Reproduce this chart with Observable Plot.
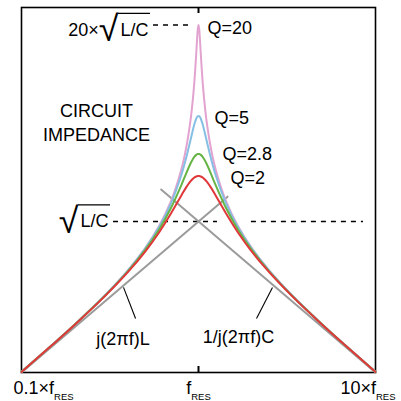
<!DOCTYPE html>
<html><head><meta charset="utf-8">
<script src="https://cdn.jsdelivr.net/npm/d3@7"></script>
<script src="https://cdn.jsdelivr.net/npm/@observablehq/plot@0.6"></script>
<style>body{margin:0;background:#fff;} svg{display:block;}</style>
</head><body>
<script>
// ---- data (impedance in units of sqrt(L/C), frequency in units of f_RES) ----
const freqRatio = [0.1, 0.15, 0.2, 0.3, 0.4, 0.5, 0.6, 0.7, 0.8, 0.85, 0.9, 0.93, 0.95, 0.97, 0.98, 0.99, 1,
  1.0101, 1.0204, 1.0309, 1.0526, 1.0753, 1.1111, 1.1765, 1.25, 1.4286, 1.6667, 2, 2.5, 3.3333, 5, 6.6667, 10];
const zQ20 = [0.1010, 0.1535, 0.2083, 0.3296, 0.4761, 0.6663, 0.9365, 1.369, 2.209, 3.028, 4.609, 6.509, 8.759, 12.69, 15.56, 18.56, 20,
  18.56, 15.56, 12.69, 8.759, 6.509, 4.609, 3.028, 2.209, 1.369, 0.9365, 0.6663, 0.4761, 0.3296, 0.2083, 0.1535, 0.1010];
const zQ5 = [0.1010, 0.1534, 0.2082, 0.3290, 0.4741, 0.6608, 0.9214, 1.324, 2.031, 2.612, 3.439, 4.046, 4.448, 4.783, 4.901, 4.975, 5,
  4.975, 4.901, 4.783, 4.448, 4.046, 3.439, 2.612, 2.031, 1.324, 0.9214, 0.6608, 0.4741, 0.3290, 0.2082, 0.1534, 0.1010];
const zQ28 = [0.1010, 0.1532, 0.2078, 0.3274, 0.4695, 0.6485, 0.8890, 1.232, 1.741, 2.067, 2.410, 2.594, 2.691, 2.760, 2.782, 2.796, 2.8,
  2.796, 2.782, 2.760, 2.691, 2.594, 2.410, 2.067, 1.741, 1.232, 0.8890, 0.6485, 0.4695, 0.3274, 0.2078, 0.1532, 0.1010];
const zQ2 = [0.1009, 0.1530, 0.2072, 0.3253, 0.4632, 0.6325, 0.8489, 1.132, 1.487, 1.675, 1.843, 1.921, 1.959, 1.985, 1.994, 1.998, 2,
  1.998, 1.994, 1.985, 1.959, 1.921, 1.843, 1.675, 1.487, 1.132, 0.8489, 0.6325, 0.4632, 0.3253, 0.2072, 0.1530, 0.1009];
const qValues = [20, 5, 2.8, 2];
const qLabels = ["Q=20", "Q=5", "Q=2.8", "Q=2"];
const inductorFreq = [0.1, 1.46];
const inductorZ = [0.1, 1.46];
const capacitorFreq = [0.615, 10];
const capacitorZ = [1.626, 0.1];
const xTickValues = [0.1, 1, 10];
const xTickLabels = ["0.1×f_RES", "f_RES", "10×f_RES"];
const levelValues = [1, 20];
const levelLabels = ["√L/C", "20×√L/C"];
const titleLabel = "CIRCUIT\nIMPEDANCE";
const inductorLabel = "j(2πf)L";
const capacitorLabel = "1/j(2πf)C";

// ---- styles / layout ----
const zSeries = [zQ20, zQ5, zQ28, zQ2];
const seriesColors = ["#e3a3d0", "#85bfe3", "#66b445", "#e0383a"];
const qLabelOffsets = [[9, 3.5], [16, 2.6], [24, 0], [32, 2.5]];
const dash = "5,5";
const font = 18;

const rows = (xs, ys) => xs.map((x, i) => ({x, y: ys[i]}));

const marks = [
  Plot.frame({stroke: "black", strokeWidth: 1.6}),
  Plot.ruleX([xTickValues[1]], {insetBottom: 359, stroke: "black", strokeWidth: 2}),
  Plot.ruleX([xTickValues[1]], {insetTop: 359, stroke: "black", strokeWidth: 2}),
  Plot.ruleY([levelValues[1]], {x1: 0.557, x2: 0.905, stroke: "black", strokeWidth: 1.6, strokeDasharray: dash}),
  Plot.ruleY([levelValues[0]], {x1: 0.331, x2: 1.28, stroke: "black", strokeWidth: 1.6, strokeDasharray: dash}),
  Plot.ruleY([levelValues[0]], {x1: 1.99, x2: 8.55, stroke: "black", strokeWidth: 1.6, strokeDasharray: dash}),
  Plot.line(rows(inductorFreq, inductorZ), {x: "x", y: "y", stroke: "#9b9b9b", strokeWidth: 2}),
  Plot.line(rows(capacitorFreq, capacitorZ), {x: "x", y: "y", stroke: "#9b9b9b", strokeWidth: 2}),
  ...zSeries.map((zs, i) => Plot.line(rows(freqRatio, zs), {x: "x", y: "y", stroke: seriesColors[i], strokeWidth: 2, curve: "catmull-rom"})),
  ...qValues.map((q, i) => Plot.text([q], {x: 1, y: d => d, text: () => qLabels[i], textAnchor: "start",
      dx: qLabelOffsets[i][0], dy: qLabelOffsets[i][1], fontSize: font})),
  Plot.text([levelValues[1]], {x: 0.557, y: d => d, text: () => levelLabels[1], textAnchor: "end", dx: -5, dy: 5, fontSize: font}),
  Plot.text([levelValues[0]], {x: 0.331, y: d => d, text: () => levelLabels[0], textAnchor: "end", dx: -5, dy: 0, fontSize: font}),
  Plot.text([titleLabel], {x: 0.2653, y: 4.59, text: d => d, textAnchor: "middle", lineHeight: 1.33, fontSize: font}),
  Plot.link([0], {x1: 0.377, y1: 0.366, x2: 0.441, y2: 0.228, stroke: "black", strokeWidth: 1.1}),
  Plot.link([0], {x1: 2.618, y1: 0.366, x2: 2.127, y2: 0.228, stroke: "black", strokeWidth: 1.1}),
  Plot.text([inductorLabel], {x: 0.3745, y: 0.167, text: d => d, textAnchor: "middle", fontSize: font}),
  Plot.text([capacitorLabel], {x: 1.683, y: 0.172, text: d => d, textAnchor: "middle", fontSize: font}),
  Plot.text([xTickValues[0]], {x: d => d, y: 0.1, text: () => xTickLabels[0], textAnchor: "start", lineAnchor: "bottom", dx: -8, dy: 21, fontSize: font}),
  Plot.text([xTickValues[1]], {x: d => d, y: 0.1, text: () => xTickLabels[1], textAnchor: "middle", lineAnchor: "bottom", dx: 0, dy: 21, fontSize: font}),
  Plot.text([xTickValues[2]], {x: d => d, y: 0.1, text: () => xTickLabels[2], textAnchor: "end", lineAnchor: "bottom", dx: 20, dy: 21, fontSize: font})
];

const plot = Plot.plot({
  width: 401, height: 401,
  marginLeft: 21, marginRight: 26, marginTop: 7, marginBottom: 29,
  x: {type: "log", domain: [0.1, 10], axis: null},
  y: {type: "log", domain: [0.1, 26.1], axis: null},
  style: {fontFamily: "'Liberation Sans', Arial, Helvetica, sans-serif", fontSize: "18px", background: "white", color: "black"},
  marks
});
document.body.append(plot);

// radical glyph metrics, so the vinculum meets the glyph's top
const radFamily = "'Liberation Sans'";
const ctx = document.createElement("canvas").getContext("2d");
ctx.font = `100px ${radFamily}`;
const m100 = ctx.measureText("√");
const asc100 = m100.actualBoundingBoxAscent || 93, desc100 = m100.actualBoundingBoxDescent || 10;
const radSize = 29 * 100 / (asc100 + desc100);          // radical about 29px tall
const radDesc = desc100 * radSize / 100, radAsc = asc100 * radSize / 100;
const radRight = (m100.actualBoundingBoxRight || 60) * radSize / 100;
const radShift = 6 - radDesc;                            // bottom ~6px below baseline

// subscripts and radicals as tspans
d3.select(plot).selectAll("text").each(function () {
  const t = this.textContent;
  const s = d3.select(this);
  if (t.includes("_")) {
    const [main, sub] = t.split("_");
    s.text(null);
    s.append("tspan").text(main);
    s.append("tspan").attr("dy", 6).attr("font-size", 9.5).text(sub);
  } else if (t.includes("√")) {
    const k = t.indexOf("√");
    const pre = t.slice(0, k), post = t.slice(k + 1);
    s.text(null);
    if (pre) s.append("tspan").text(pre);
    s.append("tspan").attr("font-size", radSize).attr("font-family", radFamily).attr("dy", radShift).text("√");
    s.append("tspan").attr("dx", 2).attr("dy", -radShift).text(post);
    const n = this.getNumberOfChars();
    const radStart = this.getStartPositionOfChar(k);
    const endX = this.getEndPositionOfChar(n - 1).x;
    const topY = radStart.y - radAsc + 0.6;
    d3.select(this.parentNode).append("line")
      .attr("transform", this.getAttribute("transform"))
      .attr("x1", radStart.x + radRight - 0.8).attr("x2", endX + 1.5)
      .attr("y1", topY).attr("y2", topY)
      .attr("stroke", "black").attr("stroke-width", 1.3);
  }
});
</script>
</body></html>
